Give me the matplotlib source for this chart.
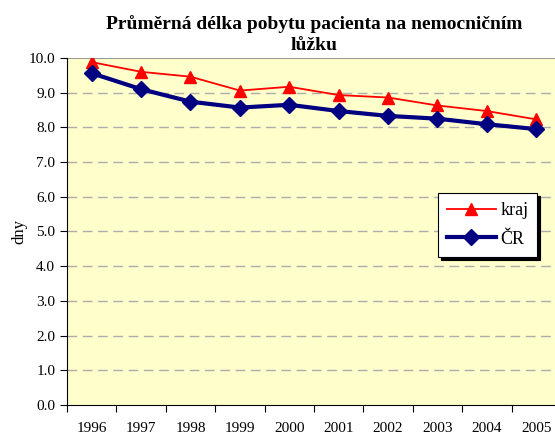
import matplotlib
matplotlib.use("Agg")
import matplotlib.pyplot as plt
import numpy as np

years = ["1996", "1997", "1998", "1999", "2000", "2001", "2002", "2003", "2004", "2005"]
kraj = [9.88, 9.60, 9.46, 9.06, 9.17, 8.93, 8.86, 8.63, 8.47, 8.23]
cr = [9.56, 9.10, 8.74, 8.57, 8.65, 8.47, 8.33, 8.25, 8.09, 7.95]
y_ticks = [0.0, 1.0, 2.0, 3.0, 4.0, 5.0, 6.0, 7.0, 8.0, 9.0, 10.0]

plt.rcParams["font.family"] = ["Liberation Serif", "DejaVu Serif"]

fig = plt.figure(figsize=(5.55, 4.36), dpi=100)
ax = fig.add_axes([0.1207, 0.0711, 0.890, 0.796])
ax.set_facecolor("#FFFFCC")

x = np.arange(len(years))
ax.plot(x, kraj, color="#FF0000", lw=1.3, marker="^", markersize=9, label="kraj", zorder=3)
ax.plot(x, cr, color="#000080", lw=3, marker="D", markersize=8, label="ČR", zorder=4)

ax.set_xlim(-0.5, len(years) - 0.5)
ax.set_ylim(0, 10)
ax.set_yticks(y_ticks)
ax.set_yticklabels([f"{v:.1f}" for v in y_ticks], fontsize=11)
for v in y_ticks[1:-1]:
    ax.axhline(v, color="#ADADAD", lw=1, ls=(0, (7, 4)), zorder=1)
ax.axhline(10, color="#999999", lw=1.5, zorder=1)

ax.set_xticks(np.arange(-0.5, len(years)), minor=False)
ax.set_xticklabels([])
ax.set_xticks(x, minor=True)
ax.set_xticklabels(years, minor=True, fontsize=11)
ax.tick_params(axis="x", which="major", direction="out", length=5)
ax.tick_params(axis="x", which="minor", length=0, pad=12)
ax.tick_params(axis="y", direction="out", length=5)

ax.spines["top"].set_visible(False)
ax.spines["right"].set_visible(False)

ax.set_ylabel("dny", fontsize=12, labelpad=1)
ax.set_title("Průměrná délka pobytu pacienta na nemocničním\nlůžku",
             fontsize=14, fontweight="bold", pad=6, linespacing=1.25)

leg = ax.legend(loc="upper left", bbox_to_anchor=(0.751, 0.611), fontsize=13,
                frameon=True, fancybox=False, edgecolor="black", framealpha=1,
                shadow={"color": "black", "alpha": 1}, handlelength=2.7,
                handletextpad=0.25, borderpad=0.5, labelspacing=0.65,
                borderaxespad=0)
leg.get_frame().set_linewidth(0.8)

fig.savefig("out.png", dpi=100)
